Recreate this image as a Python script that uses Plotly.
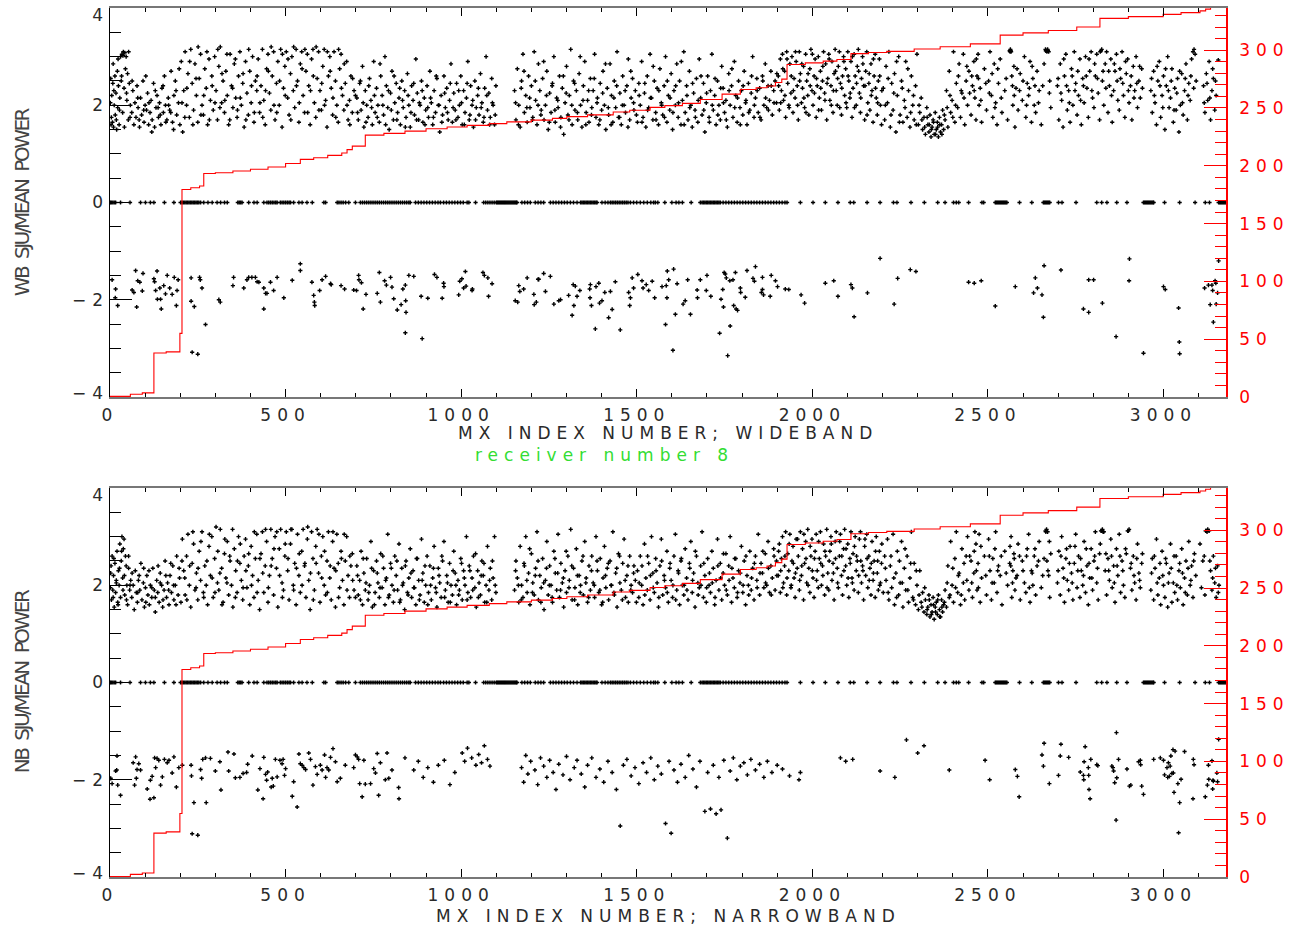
import plotly.graph_objects as go

# ---------------- data ----------------
# MX index numbers whose SJU/mean-power ratio is 0 (same in both panels)
zero_x = [1, 4, 8, 12, 16, 30, 57, 87, 101, 115, 125, 155, 182,
          201, 205, 209, 213, 217, 221, 225, 229, 233, 237, 241, 245, 249, 253, 258,
          267, 279, 291, 305, 315, 326, 334, 364, 368, 372, 376, 395, 410, 419, 438,
          447, 452, 457, 462, 467, 472, 476, 485, 490, 495, 500, 505, 510, 514, 523, 538,
          547, 561, 576, 609, 614, 647, 652, 658, 664, 671, 680, 699,
          713, 719, 725, 731, 737, 743, 749, 755, 761, 767, 773, 779, 785, 791, 797, 803,
          809, 815, 821, 827, 833, 839, 845, 851, 855,
          870, 878, 886, 894, 902, 910, 918, 926, 934, 941, 950, 958, 966, 974, 982, 990,
          998, 1006, 1017, 1022, 1041,
          1064, 1070, 1076, 1082, 1088, 1094, 1100, 1103, 1106, 1109, 1112, 1115, 1118,
          1121, 1124, 1127, 1130, 1133, 1136, 1139, 1142, 1145, 1148, 1151, 1154, 1157, 1159,
          1173, 1181, 1189, 1197, 1211, 1219, 1227, 1235, 1254, 1262, 1270, 1278, 1286,
          1294, 1302, 1311, 1320, 1330, 1340, 1344, 1348, 1352, 1356, 1360, 1364, 1368,
          1372, 1376, 1380, 1384, 1387,
          1401, 1410, 1418, 1425, 1430, 1435, 1440, 1445, 1450, 1455, 1460, 1465, 1470,
          1475, 1482, 1491, 1500, 1510, 1520, 1530, 1540, 1548, 1553, 1560, 1580, 1600,
          1612, 1620, 1630, 1655, 1681,
          1686, 1690, 1694, 1698, 1702, 1706, 1710, 1714, 1718, 1722, 1726, 1730, 1734,
          1738, 1746, 1754, 1762, 1770, 1778, 1786, 1794, 1802, 1810, 1818, 1826, 1834,
          1842, 1850, 1858, 1866, 1874, 1882, 1890, 1898, 1906, 1914, 1922, 1928,
          1966, 2002, 2037, 2073, 2108, 2118, 2156, 2193, 2231, 2241, 2281, 2319, 2357,
          2378, 2402, 2410, 2417, 2445, 2483, 2488,
          2521, 2524, 2527, 2530, 2533, 2536, 2539, 2542, 2545, 2548, 2551, 2554, 2590,
          2625, 2658, 2661, 2664, 2667, 2670, 2673, 2676, 2701, 2711, 2751, 2810, 2824,
          2839, 2867, 2896,
          2943, 2946, 2949, 2952, 2955, 2958, 2961, 2964, 2967, 2970, 2972, 3003, 3046,
          3090, 3119, 3131, 3157, 3160, 3163, 3166, 3169, 3172, 3175, 3178]

# red cumulative staircase (right-hand axis), same in both panels
red_x = [0, 58, 92, 125, 160, 199, 205, 230, 255, 267, 300, 350, 400, 450, 500, 542,
         580, 620, 660, 675, 690, 727, 780, 840, 900, 960, 1017, 1080, 1130, 1200,
         1260, 1301, 1360, 1433, 1480, 1538, 1580, 1630, 1681, 1743, 1795, 1840, 1871,
         1895, 1913, 1928, 1980, 2031, 2070, 2110, 2160, 2212, 2290, 2364, 2450, 2535,
         2600, 2672, 2753, 2819, 2900, 2999, 3050, 3104, 3120, 3134, 3178]
red_y = [0.5, 2.3, 3.5, 38, 39, 55, 179.5, 181, 182.5, 193.3, 194, 195.5, 197, 199,
         202, 205.5, 207, 209, 211, 214, 217, 226.5, 228, 230, 232, 233.5, 235, 236.5,
         238, 239.5, 241, 242.5, 244, 246.5, 248, 250.5, 252, 254, 257.3, 262, 266,
         267.5, 269, 272, 275, 287.6, 289, 290.5, 292, 297, 298, 299, 301, 303, 305.5,
         313, 315, 317, 320, 327.5, 329, 331, 332.5, 334, 335.5, 345, 345]

# wideband: upper cloud (index, ratio)
wb_upper = [
    (2, 2.55), (4, 1.75), (5, 2.2), (7, 1.65), (8, 2.45), (10, 1.55), (12, 2.0), (14, 2.6),
    (15, 1.8), (17, 2.25), (19, 1.5), (21, 2.7), (22, 1.95), (24, 2.4), (26, 1.6), (28, 2.15),
    (30, 3.0), (32, 2.5), (34, 3.05), (36, 1.85), (38, 3.1), (40, 2.35), (42, 3.08), (44, 2.75),
    (46, 3.0), (48, 2.1), (50, 2.65), (52, 1.7), (55, 2.45), (58, 2.0),
    (62, 1.85), (65, 2.3), (68, 1.6), (71, 2.05), (74, 1.75), (77, 2.4), (80, 1.95), (84, 1.55),
    (87, 2.15), (90, 1.8), (94, 2.5), (97, 1.65), (100, 2.0), (104, 1.9), (107, 2.25), (110, 1.6),
    (114, 1.85), (117, 2.1), (120, 1.7), (124, 2.45), (127, 1.55), (131, 1.95), (134, 2.2),
    (138, 1.75), (141, 2.05), (145, 1.6), (148, 2.35), (152, 1.85), (155, 2.6), (158, 2.0),
    (162, 1.7), (166, 2.15), (170, 1.9), (174, 2.7), (178, 1.65), (182, 2.2), (186, 2.5),
    (190, 1.8), (195, 2.05), (199, 1.6),
    (203, 2.9), (207, 1.45), (210, 2.3), (214, 3.1), (218, 2.0), (222, 2.65), (226, 1.75),
    (230, 3.15), (234, 2.45), (238, 1.9), (242, 2.85), (246, 2.2), (250, 1.65), (254, 2.55),
    (258, 3.05), (262, 2.0), (266, 1.8), (270, 2.75), (274, 2.35), (278, 1.6), (282, 2.95),
    (286, 2.1), (290, 2.6), (294, 1.9), (298, 3.0), (302, 2.3), (306, 1.7), (310, 2.8),
    (314, 3.2), (318, 2.05), (322, 2.5), (326, 1.85), (330, 2.7), (334, 2.2), (338, 1.6),
    (342, 3.05), (346, 2.4), (350, 1.95), (354, 2.85), (358, 2.15), (362, 1.75), (366, 2.6),
    (370, 3.1), (374, 2.0), (378, 2.45), (382, 1.55), (386, 2.9), (390, 2.25), (394, 1.8),
    (398, 2.7), (402, 2.05), (406, 3.0), (410, 1.65), (414, 2.5), (418, 2.3),
    (422, 2.95), (426, 1.85), (430, 2.4), (434, 3.15), (438, 2.1), (442, 1.6), (446, 2.75),
    (450, 3.05), (454, 2.25), (458, 1.9), (462, 2.6), (466, 3.1), (470, 1.7), (474, 2.45),
    (478, 2.9), (482, 2.0), (486, 3.15), (490, 1.55), (494, 2.35), (498, 2.8), (502, 3.1),
    (506, 2.15), (510, 1.8), (514, 2.65), (518, 3.0), (522, 2.3), (526, 1.95), (530, 3.15),
    (534, 2.5), (538, 1.65), (542, 2.85), (546, 3.1), (550, 2.2), (554, 1.85), (558, 2.7),
    (562, 3.05), (566, 2.4), (570, 1.6), (574, 2.95), (578, 3.15), (582, 2.05), (586, 1.75),
    (590, 2.55), (594, 3.1), (598, 2.3), (602, 1.9), (606, 2.8), (610, 3.15), (614, 2.1),
    (618, 1.55), (622, 2.6), (626, 3.0), (630, 2.35), (634, 1.8), (638, 3.1), (642, 2.5),
    (646, 2.0), (650, 1.65), (654, 2.75), (658, 3.05), (662, 2.2), (666, 1.9), (670, 2.45),
    (674, 2.9), (678, 1.7), (682, 2.1), (686, 2.6), (690, 1.85), (695, 2.3),
    (703, 2.15), (707, 1.7), (711, 2.45), (715, 1.9), (719, 2.8), (723, 1.55), (727, 2.3),
    (731, 2.0), (735, 1.75), (739, 2.55), (743, 2.1), (747, 1.6), (751, 2.9), (755, 1.85),
    (759, 2.35), (763, 2.0), (767, 1.65), (771, 2.6), (775, 2.2), (779, 1.8), (783, 3.0),
    (787, 2.4), (791, 1.95), (795, 1.5), (799, 2.25), (803, 2.7), (807, 1.7), (811, 2.05),
    (815, 2.45), (819, 1.85), (823, 2.15), (827, 1.6), (831, 2.5), (835, 1.95), (839, 2.3),
    (843, 1.75), (847, 2.65), (851, 2.0), (855, 1.55), (859, 2.4), (863, 2.1), (867, 1.8),
    (871, 2.95), (875, 2.25), (879, 1.7), (883, 2.0), (887, 2.5), (891, 1.65), (895, 2.15),
    (899, 1.9), (903, 2.4), (907, 1.75), (911, 2.7), (915, 2.05), (919, 1.6), (923, 2.3),
    (927, 1.85), (931, 2.55), (935, 2.0), (939, 1.45), (943, 2.2), (947, 1.8), (951, 2.6),
    (955, 1.95), (959, 2.35), (963, 1.7), (967, 2.1), (971, 2.85), (975, 1.65), (979, 2.25),
    (983, 1.9), (987, 2.45), (991, 1.75), (995, 2.0), (999, 2.6), (1003, 1.6), (1007, 2.3),
    (1011, 1.85), (1015, 2.15), (1019, 2.9), (1023, 1.7), (1027, 2.4), (1031, 2.0),
    (1035, 1.55), (1039, 2.5), (1043, 1.95), (1047, 2.2), (1051, 1.8), (1055, 2.65),
    (1059, 2.05), (1063, 1.65), (1067, 2.35), (1071, 3.0), (1075, 1.9), (1079, 2.25),
    (1083, 1.75), (1087, 2.55), (1091, 2.0), (1095, 1.6), (1099, 2.4),
    (1152, 2.3), (1156, 1.7), (1160, 2.75), (1164, 2.0), (1168, 1.55), (1172, 2.5),
    (1176, 3.05), (1180, 1.85), (1184, 2.2), (1188, 1.65), (1192, 2.6), (1196, 1.95),
    (1200, 2.4), (1204, 1.75), (1208, 3.1), (1212, 2.1), (1216, 1.6), (1220, 2.85),
    (1224, 2.3), (1228, 1.9), (1232, 2.55), (1236, 1.7), (1240, 2.0), (1244, 2.7),
    (1248, 1.5), (1252, 2.25), (1256, 1.85), (1260, 2.45), (1264, 3.0), (1268, 1.65),
    (1272, 2.15), (1276, 1.95), (1280, 2.6), (1284, 1.75), (1288, 2.35), (1292, 1.4),
    (1296, 2.05), (1300, 2.8), (1304, 1.8), (1308, 2.2), (1312, 3.15), (1316, 1.6),
    (1320, 2.5), (1324, 1.9), (1328, 2.3), (1332, 1.7), (1336, 2.65), (1340, 2.0),
    (1344, 1.55), (1348, 2.4), (1352, 2.9), (1356, 1.85), (1360, 2.1), (1364, 1.65),
    (1368, 2.55), (1372, 1.95), (1376, 2.3), (1380, 3.05), (1384, 1.75), (1388, 2.15),
    (1392, 1.6), (1396, 2.45), (1400, 1.9), (1404, 2.7), (1408, 2.0), (1412, 1.5),
    (1416, 2.35), (1420, 1.8), (1424, 2.85), (1428, 2.2), (1432, 1.65), (1436, 2.5),
    (1440, 1.95), (1444, 3.1), (1448, 1.75), (1452, 2.25), (1456, 1.6), (1460, 2.6),
    (1464, 2.0), (1468, 1.85), (1472, 2.4), (1476, 2.95), (1480, 1.7), (1484, 2.15),
    (1488, 2.55), (1492, 1.9), (1496, 2.3),
    (1502, 1.65), (1506, 2.45), (1510, 2.0), (1514, 2.9), (1518, 1.75), (1522, 2.25),
    (1526, 1.55), (1530, 2.6), (1534, 1.95), (1538, 3.05), (1542, 2.15), (1546, 1.7),
    (1550, 2.5), (1554, 1.85), (1558, 2.35), (1562, 1.6), (1566, 2.75), (1570, 2.05),
    (1574, 1.8), (1578, 2.4), (1582, 3.0), (1586, 1.65), (1590, 2.2), (1594, 1.9),
    (1598, 2.65), (1602, 1.5), (1606, 2.3), (1610, 2.0), (1614, 2.85), (1618, 1.75),
    (1622, 2.5), (1626, 1.6), (1630, 2.1), (1634, 3.1), (1638, 1.85), (1642, 2.4),
    (1646, 1.7), (1650, 2.7), (1654, 2.0), (1658, 1.55), (1662, 2.25), (1666, 1.9),
    (1670, 2.55), (1674, 1.65), (1678, 2.95), (1682, 2.15), (1686, 1.8), (1690, 2.45),
    (1694, 1.45), (1698, 2.05), (1702, 2.6), (1706, 1.75), (1710, 2.3), (1714, 3.05),
    (1718, 1.9), (1722, 2.2), (1726, 1.6), (1730, 2.5), (1734, 2.0), (1738, 1.7),
    (1742, 2.8), (1746, 2.35), (1750, 1.85), (1754, 2.1), (1758, 1.55), (1762, 2.65),
    (1766, 2.0), (1770, 2.4), (1774, 1.75), (1778, 2.9), (1782, 2.2), (1786, 1.65),
    (1790, 2.5), (1794, 1.95), (1798, 2.3), (1802, 1.8), (1806, 2.7), (1810, 2.05),
    (1814, 1.6), (1818, 2.45), (1822, 1.9), (1826, 2.25), (1830, 3.0), (1834, 1.75),
    (1838, 2.15), (1842, 2.55), (1846, 1.85), (1850, 2.35), (1854, 1.7), (1858, 2.6),
    (1862, 2.0), (1866, 2.85), (1870, 1.95), (1874, 2.4), (1878, 2.1), (1882, 2.7),
    (1886, 1.8), (1890, 2.3), (1894, 2.5), (1898, 2.05),
    (1903, 2.6), (1906, 1.9), (1909, 2.95), (1912, 2.3), (1915, 3.05), (1918, 2.1),
    (1921, 2.7), (1924, 1.75), (1927, 3.1), (1930, 2.45), (1933, 2.0), (1936, 2.85),
    (1939, 2.25), (1942, 3.0), (1945, 1.85), (1948, 2.55), (1951, 2.15), (1954, 2.9),
    (1957, 2.4), (1960, 1.7), (1963, 3.1), (1966, 2.65), (1969, 2.05), (1972, 2.35),
    (1975, 2.8), (1978, 1.95), (1981, 3.05), (1984, 2.5), (1987, 2.2), (1990, 1.8),
    (1993, 2.75), (1996, 3.15), (1999, 2.3), (2002, 2.0), (2005, 2.6), (2008, 2.95),
    (2011, 1.75), (2014, 2.4), (2017, 3.0), (2020, 2.15), (2023, 2.7), (2026, 1.9),
    (2029, 2.5), (2032, 3.1), (2035, 2.25), (2038, 2.85), (2041, 1.7), (2044, 2.55),
    (2047, 3.05), (2050, 2.1), (2053, 2.4), (2056, 2.9), (2059, 1.85), (2062, 2.65),
    (2065, 3.15), (2068, 2.3), (2071, 2.0), (2074, 2.8), (2077, 3.1), (2080, 2.45),
    (2083, 1.8), (2086, 2.6), (2089, 3.0), (2092, 2.2), (2095, 2.75), (2098, 1.95),
    (2101, 3.1), (2104, 2.5), (2107, 2.15), (2110, 2.9), (2113, 1.75), (2116, 2.35),
    (2119, 3.05), (2122, 2.6), (2125, 2.0), (2128, 2.8), (2131, 3.15), (2134, 2.25),
    (2137, 1.85), (2140, 2.55), (2143, 3.0), (2146, 2.4), (2149, 1.7), (2152, 2.7),
    (2155, 3.1), (2158, 2.05), (2161, 2.45), (2164, 1.9), (2167, 2.85), (2170, 2.3),
    (2173, 1.65), (2176, 2.6), (2179, 3.05), (2182, 2.15), (2185, 1.8), (2188, 2.5),
    (2191, 2.95), (2194, 2.0), (2197, 1.6),
    (2202, 2.35), (2206, 1.7), (2210, 2.8), (2214, 2.05), (2218, 3.1), (2222, 1.55),
    (2226, 2.45), (2230, 1.9), (2234, 2.65), (2238, 1.45), (2242, 2.2), (2246, 3.0),
    (2250, 1.8), (2254, 2.5), (2258, 1.65), (2262, 2.1), (2266, 2.9), (2270, 1.75),
    (2274, 2.3), (2278, 1.55), (2282, 2.6), (2286, 2.0), (2290, 1.7), (2294, 2.4),
    (2298, 3.05), (2302, 1.6), (2306, 1.85), (2310, 2.15), (2314, 1.5), (2318, 1.75),
    (2322, 1.4), (2326, 1.95), (2329, 1.6), (2332, 1.45), (2335, 1.8), (2338, 1.35),
    (2341, 1.55), (2344, 1.7), (2347, 1.4), (2350, 1.85), (2353, 1.5), (2356, 1.65),
    (2359, 1.35), (2362, 1.75), (2365, 1.45), (2368, 1.6), (2371, 1.9), (2374, 1.5),
    (2378, 1.7), (2382, 2.3), (2386, 1.55), (2390, 2.7), (2394, 1.85), (2398, 2.1),
    (2402, 3.1), (2406, 1.65), (2410, 2.45), (2414, 1.95), (2418, 2.85), (2422, 1.75),
    (2426, 2.25), (2430, 3.05), (2434, 1.6), (2438, 2.5), (2442, 2.0), (2446, 2.7),
    (2452, 1.8), (2456, 2.4), (2460, 2.9), (2463, 2.15), (2466, 1.7), (2469, 2.6),
    (2472, 3.05), (2475, 2.0), (2478, 2.35), (2482, 1.65), (2490, 2.75), (2496, 1.9),
    (2502, 2.5), (2506, 3.1), (2510, 2.2), (2514, 1.75), (2518, 2.85), (2522, 2.05),
    (2526, 1.6), (2530, 2.45), (2535, 2.95), (2540, 1.85), (2548, 2.3), (2556, 1.7),
    (2562, 3.12), (2564, 3.15), (2566, 3.1), (2568, 2.6), (2571, 2.0), (2574, 2.8),
    (2577, 1.55), (2580, 2.35), (2586, 1.9), (2592, 2.65), (2598, 2.1), (2604, 3.0),
    (2608, 1.75), (2612, 2.45), (2616, 2.2), (2620, 2.9), (2624, 1.65), (2628, 2.55),
    (2632, 2.0), (2636, 1.85), (2640, 2.7), (2646, 2.3), (2652, 1.6), (2660, 2.85),
    (2664, 3.15), (2667, 3.12), (2670, 3.15), (2673, 3.1), (2676, 2.5), (2679, 1.95),
    (2698, 2.4), (2702, 1.7), (2706, 2.85), (2710, 2.1), (2714, 1.55), (2718, 2.6),
    (2722, 3.05), (2726, 1.9), (2730, 2.3), (2734, 1.65), (2738, 2.75), (2742, 2.0),
    (2746, 3.1), (2750, 2.45), (2754, 1.8), (2758, 2.2), (2762, 2.95), (2766, 1.6),
    (2770, 2.55), (2774, 2.05), (2778, 3.0), (2782, 2.35), (2786, 1.75), (2790, 2.7),
    (2794, 3.1), (2798, 2.15), (2802, 1.95), (2806, 2.6), (2810, 3.05), (2814, 2.25),
    (2818, 1.7), (2822, 3.12), (2826, 2.5), (2830, 2.0), (2834, 2.85), (2838, 3.1),
    (2842, 1.85), (2846, 2.4), (2850, 2.95), (2854, 1.65), (2858, 2.3), (2862, 2.7),
    (2866, 3.05), (2870, 2.1), (2874, 1.9), (2878, 2.55), (2882, 3.1), (2886, 2.2),
    (2890, 1.75), (2894, 2.65), (2898, 2.95), (2902, 2.05), (2906, 2.4), (2910, 1.7),
    (2914, 2.8), (2918, 2.3), (2922, 3.0), (2926, 1.95), (2930, 2.5), (2934, 2.15),
    (2938, 2.75),
    (2964, 2.3), (2968, 1.85), (2972, 2.7), (2976, 2.05), (2980, 1.6), (2984, 2.5),
    (2988, 2.9), (2992, 1.75), (2996, 2.2), (3000, 2.6), (3004, 1.5), (3008, 2.4),
    (3012, 3.0), (3016, 1.95), (3020, 2.15), (3024, 2.75), (3028, 1.65), (3032, 2.35),
    (3036, 1.9), (3040, 2.55), (3044, 1.45), (3048, 2.0), (3052, 2.65), (3056, 1.8),
    (3060, 2.3), (3064, 2.85), (3068, 1.7), (3072, 2.45), (3076, 2.1), (3080, 2.95),
    (3084, 3.1), (3087, 3.15), (3090, 3.05), (3093, 2.5),
    (3114, 2.4), (3118, 1.85), (3122, 2.65), (3126, 2.1), (3130, 2.9), (3134, 1.7),
    (3138, 2.3), (3142, 2.55), (3146, 1.9), (3150, 2.2)]

# wideband: further points of the upper cloud
wb_upper_more = [
    (1, 2.05), (3, 1.6), (9, 2.85), (11, 2.3), (18, 1.7), (23, 2.95), (27, 1.9), (33, 2.6),
    (37, 3.02), (41, 1.55), (47, 2.25), (53, 3.1), (57, 1.75), (63, 2.5), (79, 2.15),
    (83, 1.7), (96, 1.9), (102, 2.6), (111, 2.05), (119, 1.45), (129, 2.3), (137, 1.95),
    (143, 1.8), (151, 2.4), (159, 1.65), (167, 2.0), (173, 1.85), (181, 1.5), (188, 2.3),
    (197, 2.75),
    (205, 2.05), (213, 1.75), (219, 2.35), (227, 2.9), (236, 1.6), (245, 2.55), (251, 3.2),
    (259, 1.8), (267, 2.2), (276, 3.1), (283, 1.7), (291, 2.4), (299, 2.05), (307, 3.15),
    (313, 1.95), (319, 2.65), (327, 2.1), (333, 3.05), (341, 1.7), (349, 2.35), (357, 2.95),
    (363, 1.9), (371, 2.15), (379, 2.65), (387, 1.7), (395, 3.15), (403, 2.4), (411, 1.85),
    (419, 2.6), (427, 2.05), (435, 1.75), (443, 2.3), (451, 2.7), (459, 3.2), (467, 2.0),
    (475, 1.85), (483, 2.5), (491, 3.05), (499, 2.2), (507, 2.95), (515, 1.7), (523, 3.2),
    (531, 2.4), (539, 2.05), (547, 2.75), (555, 3.15), (563, 1.85), (571, 2.3), (579, 2.6),
    (587, 3.2), (595, 1.9), (603, 2.45), (611, 2.0), (619, 3.1), (627, 2.7), (635, 2.15),
    (643, 1.75), (651, 3.15), (659, 2.35), (667, 2.85), (675, 2.0), (683, 1.6), (691, 2.55),
    (699, 2.2),
    (705, 1.85), (713, 2.5), (721, 2.05), (729, 1.65), (737, 2.4), (745, 1.95), (753, 2.2),
    (761, 1.75), (769, 2.85), (777, 2.0), (785, 1.6), (793, 2.3), (801, 1.9), (809, 2.6),
    (817, 1.7), (825, 2.35), (833, 2.1), (841, 1.55), (849, 2.2), (857, 1.85), (865, 2.45),
    (873, 1.7), (881, 2.05), (889, 2.3), (897, 1.6), (905, 1.95), (913, 2.15), (921, 1.75),
    (929, 2.6), (937, 2.0), (945, 1.65), (953, 2.25), (961, 1.85), (969, 2.45), (977, 1.95),
    (985, 1.7), (993, 2.3), (1001, 2.05), (1009, 1.6), (1017, 2.45), (1025, 1.8),
    (1033, 2.1), (1041, 1.7), (1049, 2.35), (1057, 1.95), (1065, 1.75), (1073, 2.2),
    (1081, 1.6), (1089, 2.05), (1097, 1.8),
    (1155, 2.05), (1163, 1.6), (1171, 2.35), (1179, 2.7), (1187, 1.95), (1195, 2.15),
    (1203, 1.7), (1211, 2.5), (1219, 2.0), (1227, 1.8), (1235, 2.9), (1243, 2.2),
    (1251, 1.65), (1259, 2.4), (1267, 1.9), (1275, 2.1), (1283, 1.55), (1291, 2.6),
    (1299, 2.25), (1307, 1.7), (1315, 2.0), (1323, 2.45), (1331, 1.85), (1339, 3.0),
    (1347, 2.1), (1355, 1.6), (1363, 2.3), (1371, 1.8), (1379, 2.55), (1387, 2.05),
    (1395, 1.7), (1403, 2.25), (1411, 2.85), (1419, 1.95), (1427, 1.6), (1435, 2.15),
    (1443, 2.4), (1451, 1.75), (1459, 2.0), (1467, 2.3), (1475, 1.55), (1483, 2.7),
    (1491, 2.05), (1499, 1.8), (1507, 2.2), (1515, 1.65), (1523, 2.45), (1531, 1.9),
    (1539, 2.15), (1547, 2.8), (1555, 1.7), (1563, 2.3), (1571, 2.0), (1579, 1.75),
    (1587, 2.5), (1595, 2.15), (1603, 1.85), (1611, 2.4), (1619, 2.05), (1627, 2.9),
    (1635, 1.6), (1643, 2.2), (1651, 1.95), (1659, 2.45), (1667, 1.75), (1675, 2.1),
    (1683, 2.6), (1691, 1.9), (1699, 2.25), (1707, 1.65), (1715, 2.0), (1723, 2.55),
    (1731, 1.8), (1739, 2.35), (1747, 2.05), (1755, 1.7), (1763, 2.3), (1771, 2.75),
    (1779, 1.95), (1787, 2.15), (1795, 1.6), (1803, 2.4), (1811, 2.1), (1819, 1.85),
    (1827, 2.6), (1835, 2.0), (1843, 2.3), (1851, 1.75), (1859, 2.5), (1867, 2.15),
    (1875, 1.9), (1883, 2.4), (1891, 2.05), (1899, 2.65),
    (1904, 2.4), (1910, 2.05), (1916, 2.75), (1922, 2.2), (1928, 2.95), (1934, 1.95),
    (1940, 2.6), (1946, 2.3), (1952, 3.1), (1958, 2.0), (1964, 2.5), (1970, 2.85),
    (1976, 2.15), (1982, 1.85), (1988, 2.65), (1994, 2.4), (2000, 3.05), (2006, 2.25),
    (2012, 2.55), (2018, 1.9), (2024, 2.35), (2030, 2.8), (2036, 2.1), (2042, 2.45),
    (2048, 2.95), (2054, 2.0), (2060, 2.3), (2066, 2.7), (2072, 2.55), (2078, 1.95),
    (2084, 2.35), (2090, 2.9), (2096, 2.05), (2102, 2.6), (2108, 2.25), (2114, 3.0),
    (2120, 1.95), (2126, 2.45), (2132, 2.7), (2138, 2.15), (2144, 2.85), (2150, 2.4),
    (2156, 1.8), (2162, 2.65), (2168, 2.2), (2174, 2.95), (2180, 2.35), (2186, 2.05),
    (2192, 2.6), (2198, 2.3),
    (2208, 2.0), (2216, 2.55), (2224, 1.8), (2232, 2.25), (2240, 2.9), (2248, 1.65),
    (2256, 2.35), (2264, 1.95), (2272, 2.75), (2280, 1.85), (2288, 2.2), (2296, 1.6),
    (2304, 2.0), (2312, 1.7), (2320, 1.55), (2327, 1.75), (2333, 1.6), (2339, 1.5),
    (2345, 1.65), (2351, 1.4), (2357, 1.55), (2363, 1.6), (2369, 1.4), (2376, 1.8),
    (2384, 1.95), (2392, 2.2), (2400, 1.75), (2408, 2.0), (2416, 2.6), (2424, 2.3),
    (2432, 2.15), (2440, 2.8), (2448, 2.25),
    (2454, 2.6), (2461, 2.3), (2467, 2.95), (2473, 2.55), (2480, 2.1), (2494, 2.45),
    (2504, 2.25), (2512, 2.65), (2520, 1.95), (2528, 2.75), (2538, 2.15), (2552, 2.55),
    (2563, 3.1), (2565, 3.12), (2570, 2.4), (2575, 2.2), (2583, 2.75), (2590, 2.3),
    (2600, 2.5), (2610, 2.0), (2618, 2.35), (2626, 2.8), (2634, 2.4), (2644, 2.05),
    (2656, 2.4), (2665, 3.12), (2668, 3.1), (2671, 3.12), (2675, 2.25), (2700, 2.55),
    (2708, 2.25), (2716, 2.95), (2724, 2.4), (2732, 2.05), (2740, 2.6), (2748, 2.3),
    (2756, 2.7), (2764, 2.1), (2772, 2.4), (2780, 2.6), (2788, 2.95), (2796, 2.3),
    (2804, 2.85), (2812, 2.55), (2820, 3.1), (2824, 3.15), (2828, 2.7), (2836, 2.35),
    (2844, 2.7), (2852, 2.2), (2860, 2.85), (2868, 2.5), (2876, 2.75), (2884, 2.45),
    (2892, 2.9), (2900, 2.3), (2908, 2.6), (2916, 2.15), (2924, 2.45), (2932, 2.8),
    (2940, 2.35), (2966, 2.55), (2974, 2.2), (2982, 2.8), (2990, 2.4), (2998, 1.95),
    (3006, 2.75), (3014, 2.3), (3022, 2.5), (3030, 1.9), (3038, 2.25), (3046, 2.7),
    (3054, 2.05), (3062, 2.55), (3070, 2.2), (3078, 2.6), (3086, 2.35), (3116, 2.05),
    (3124, 2.45), (3132, 2.15), (3140, 2.75), (3148, 2.5), (3156, 2.93)]

# wideband: lower cloud
wb_lower = [
    (6, -1.59), (16, -1.78), (15, -1.96), (22, -2.12), (63, -1.80), (68, -1.85), (73, -1.40),
    (76, -2.15), (79, -1.61), (85, -1.64), (92, -1.82), (94, -1.46), (125, -1.57), (127, -1.63),
    (130, -1.81), (134, -1.41), (135, -1.99), (142, -1.76), (144, -1.99), (146, -2.19),
    (153, -1.71), (158, -1.88), (163, -1.50), (170, -1.76), (177, -1.89), (183, -1.54),
    (189, -2.12), (191, -1.81), (194, -1.59), (231, -1.55), (231, -2.03), (240, -2.14),
    (234, -3.08), (250, -3.12), (255, -1.54), (257, -1.59), (262, -1.76), (272, -2.51),
    (310, -2.00), (314, -2.05), (350, -1.71), (352, -1.54), (381, -1.76), (390, -1.59),
    (395, -1.54), (404, -1.54), (414, -1.54), (419, -1.63), (424, -1.64), (438, -2.19),
    (438, -1.76), (443, -1.87), (447, -1.87), (457, -1.64), (466, -1.81), (476, -1.54),
    (495, -1.96), (519, -1.60),
    (542, -1.26), (542, -1.40), (575, -1.64), (580, -1.91), (582, -2.05), (583, -2.12),
    (597, -1.81), (604, -1.59), (614, -1.52), (628, -1.67), (630, -1.69), (658, -1.71),
    (668, -1.78), (694, -1.80), (702, -1.81), (708, -1.50), (709, -1.59), (716, -1.65),
    (721, -2.19), (729, -1.89), (761, -1.87), (767, -1.44), (770, -2.05), (782, -1.61),
    (787, -1.70), (799, -1.54), (803, -1.74), (808, -1.98), (818, -2.21), (829, -2.10),
    (834, -1.78), (841, -1.70), (842, -2.02), (843, -2.26), (841, -2.68), (851, -1.50),
    (865, -1.52), (886, -1.93), (889, -2.80), (905, -1.97), (924, -1.48), (931, -1.54),
    (946, -1.97), (950, -1.66), (951, -1.73), (993, -1.90), (996, -1.62), (1002, -1.57),
    (1007, -1.76), (1012, -1.42), (1014, -1.72), (1031, -1.81), (1032, -1.78), (1062, -1.44),
    (1066, -1.50), (1076, -1.55), (1078, -1.93), (1088, -1.67),
    (1154, -2.02), (1161, -2.05), (1164, -1.71), (1167, -1.83), (1178, -1.78), (1188, -1.55),
    (1207, -1.89), (1208, -2.10), (1214, -2.05), (1219, -1.58), (1221, -1.58), (1235, -1.46),
    (1240, -1.83), (1254, -1.52), (1264, -2.09), (1278, -2.02), (1283, -2.00), (1306, -1.91),
    (1316, -2.32), (1319, -1.69), (1321, -2.12), (1325, -1.72), (1330, -1.93), (1338, -1.81),
    (1366, -1.78), (1367, -1.96), (1368, -1.69), (1371, -2.12), (1382, -2.60), (1384, -1.73),
    (1392, -1.66), (1394, -2.07), (1401, -2.02), (1409, -1.85), (1420, -2.37), (1430, -2.20),
    (1425, -1.83), (1439, -1.63), (1453, -2.62), (1477, -1.85), (1480, -2.12), (1482, -1.96),
    (1487, -1.55), (1491, -1.76), (1503, -1.48), (1515, -1.61), (1518, -1.76), (1527, -1.69),
    (1534, -1.81), (1544, -1.62), (1551, -1.96), (1572, -1.73), (1582, -2.51), (1584, -1.71),
    (1586, -1.96), (1587, -1.41), (1591, -1.59), (1603, -3.04), (1605, -1.37), (1610, -2.30),
    (1615, -1.67), (1632, -2.09), (1638, -2.02), (1645, -1.59), (1653, -2.30), (1672, -1.80),
    (1673, -1.96), (1681, -1.59),
    (1700, -1.50), (1698, -1.81), (1711, -1.93), (1736, -2.69), (1740, -1.99), (1745, -1.79),
    (1747, -2.15), (1749, -1.44), (1752, -1.47), (1755, -1.55), (1759, -3.15), (1765, -1.61),
    (1766, -2.54), (1774, -1.59), (1776, -2.12), (1781, -1.44), (1783, -2.19), (1787, -2.22),
    (1795, -1.76), (1796, -1.85), (1809, -1.95), (1814, -1.40), (1831, -1.56), (1835, -1.62),
    (1838, -1.32), (1855, -1.85), (1858, -1.79), (1861, -1.90), (1858, -1.54), (1880, -1.93),
    (1883, -1.50), (1895, -1.61), (1901, -1.73), (1923, -1.78), (1933, -1.79), (1968, -1.90),
    (1978, -2.07), (2037, -1.66), (2061, -1.61), (2073, -1.93), (2110, -1.69), (2114, -1.76),
    (2119, -2.35), (2157, -1.86), (2193, -1.15), (2233, -2.09), (2243, -1.56), (2279, -1.38),
    (2295, -1.42), (2445, -1.64), (2461, -1.66), (2481, -1.61), (2521, -2.13), (2578, -1.73),
    (2630, -1.86), (2635, -1.55), (2641, -1.76), (2654, -1.90), (2658, -2.36), (2660, -1.30),
    (2708, -1.39), (2772, -2.19), (2787, -2.26), (2787, -1.59), (2801, -1.59), (2826, -2.07),
    (2865, -2.76), (2903, -1.16), (2902, -1.61), (2943, -3.10), (3000, -1.73), (3005, -1.79),
    (3043, -2.17), (3045, -2.87), (3046, -3.11), (3117, -1.76), (3128, -1.70), (3138, -1.70),
    (3140, -1.81), (3147, -1.61), (3149, -1.66), (3154, -1.86), (3133, -2.10), (3150, -2.09),
    (3142, -2.46), (3157, -1.20)]

# narrowband: upper cloud
nb_upper = [
    (2, 2.25), (4, 1.7), (6, 2.6), (8, 1.9), (10, 2.2), (12, 1.55), (14, 2.45), (16, 1.85),
    (18, 2.1), (20, 2.7), (22, 1.65), (24, 2.3), (26, 2.0), (28, 2.85), (30, 1.75), (32, 2.5),
    (34, 3.0), (36, 2.15), (38, 2.75), (40, 2.95), (42, 1.8), (44, 2.6), (46, 2.4), (48, 2.0),
    (50, 1.6), (53, 2.35), (56, 1.9), (59, 2.1),
    (62, 1.75), (66, 2.0), (69, 1.5), (72, 2.3), (75, 1.85), (78, 1.65), (81, 2.1), (85, 1.9),
    (88, 2.45), (91, 1.7), (95, 2.05), (98, 1.55), (101, 1.95), (105, 2.2), (108, 1.8),
    (112, 1.6), (115, 2.0), (119, 1.75), (122, 2.35), (126, 1.9), (129, 1.45), (133, 2.1),
    (136, 1.85), (140, 1.65), (143, 2.25), (147, 2.0), (150, 1.55), (154, 1.9), (157, 2.5),
    (161, 1.75), (164, 2.05), (168, 1.6), (171, 2.2), (175, 1.85), (179, 2.4), (182, 1.7),
    (186, 2.0), (190, 2.6), (194, 1.8), (198, 2.15),
    (202, 1.65), (206, 2.95), (210, 2.3), (214, 1.8), (218, 2.6), (222, 3.05), (226, 2.0),
    (230, 1.55), (234, 2.45), (238, 2.85), (242, 1.9), (246, 2.25), (250, 1.7), (254, 2.7),
    (258, 2.1), (262, 3.1), (266, 1.85), (270, 2.4), (274, 2.0), (278, 1.6), (282, 2.8),
    (286, 2.2), (290, 3.0), (294, 1.75), (298, 2.55), (302, 3.2), (306, 2.05), (310, 1.9),
    (314, 3.15), (318, 2.35), (322, 1.65), (326, 2.65), (330, 2.15), (334, 2.9), (338, 1.8),
    (342, 2.5), (346, 2.0), (350, 1.55), (354, 2.75), (358, 2.3), (362, 1.85), (366, 3.0),
    (370, 2.45), (374, 2.1), (378, 1.7), (382, 2.6), (386, 2.95), (390, 1.95), (394, 2.4),
    (398, 1.6), (402, 2.8), (406, 2.2), (410, 1.75), (414, 2.55), (418, 3.05),
    (422, 2.1), (426, 1.5), (430, 2.65), (434, 3.1), (438, 1.85), (442, 2.4), (446, 2.9),
    (450, 1.65), (454, 2.2), (458, 3.15), (462, 2.55), (466, 1.8), (470, 3.0), (474, 2.35),
    (478, 1.55), (482, 2.75), (486, 3.15), (490, 2.05), (494, 1.9), (498, 2.6), (502, 3.1),
    (506, 2.3), (510, 1.7), (514, 2.85), (518, 3.15), (522, 2.0), (526, 2.45), (530, 1.6),
    (534, 3.05), (538, 2.2), (542, 1.85), (546, 2.7), (550, 3.15), (554, 2.4), (558, 1.75),
    (562, 2.95), (566, 2.1), (570, 1.5), (574, 3.1), (578, 2.55), (582, 1.9), (586, 2.8),
    (590, 3.15), (594, 2.25), (598, 1.65), (602, 2.6), (606, 3.0), (610, 2.0), (614, 1.8),
    (618, 2.5), (622, 3.1), (626, 2.15), (630, 1.7), (634, 2.9), (638, 2.35), (642, 1.55),
    (646, 3.05), (650, 2.45), (654, 1.95), (658, 2.7), (662, 2.1), (666, 1.6), (670, 2.5),
    (674, 3.0), (678, 2.2), (682, 1.75), (686, 2.4), (690, 2.65), (695, 1.9),
    (703, 2.4), (707, 1.8), (711, 2.1), (715, 2.7), (719, 1.6), (723, 2.25), (727, 1.9),
    (731, 2.55), (735, 1.7), (739, 2.0), (743, 2.9), (747, 1.55), (751, 2.3), (755, 1.85),
    (759, 2.5), (763, 2.05), (767, 1.75), (771, 2.65), (775, 1.95), (779, 2.35), (783, 1.6),
    (787, 2.15), (791, 3.05), (795, 1.8), (799, 2.45), (803, 2.0), (807, 1.65), (811, 2.6),
    (815, 2.2), (819, 1.9), (823, 2.85), (827, 1.7), (831, 2.35), (835, 2.05), (839, 1.5),
    (843, 2.5), (847, 1.85), (851, 2.15), (855, 2.75), (859, 1.75), (863, 2.3), (867, 1.95),
    (871, 1.6), (875, 2.55), (879, 2.1), (883, 1.8), (887, 2.95), (891, 2.25), (895, 1.65),
    (899, 2.0), (903, 2.6), (907, 1.85), (911, 2.4), (915, 1.7), (919, 2.15), (923, 2.8),
    (927, 1.95), (931, 1.55), (935, 2.35), (939, 2.05), (943, 1.75), (947, 2.5), (951, 2.9),
    (955, 1.9), (959, 2.2), (963, 1.65), (967, 2.45), (971, 2.0), (975, 1.8), (979, 2.7),
    (983, 2.25), (987, 1.6), (991, 2.1), (995, 1.9), (999, 2.55), (1003, 1.7), (1007, 2.3),
    (1011, 2.0), (1015, 3.0), (1019, 1.85), (1023, 2.4), (1027, 1.75), (1031, 2.15),
    (1035, 2.6), (1039, 1.95), (1043, 1.55), (1047, 2.3), (1051, 2.05), (1055, 1.8),
    (1059, 2.5), (1063, 2.2), (1067, 1.65), (1071, 2.0), (1075, 2.8), (1079, 1.9),
    (1083, 2.35), (1087, 1.7), (1091, 2.15), (1095, 3.0), (1099, 1.85),
    (1152, 1.9), (1156, 2.5), (1160, 2.15), (1164, 1.65), (1168, 2.8), (1172, 2.0),
    (1176, 1.75), (1180, 2.4), (1184, 3.0), (1188, 1.85), (1192, 2.25), (1196, 1.6),
    (1200, 2.65), (1204, 2.05), (1208, 1.8), (1212, 2.35), (1216, 3.1), (1220, 1.7),
    (1224, 2.2), (1228, 1.95), (1232, 2.55), (1236, 1.5), (1240, 2.1), (1244, 2.9),
    (1248, 1.8), (1252, 2.4), (1256, 2.0), (1260, 1.65), (1264, 2.7), (1268, 2.25),
    (1272, 1.9), (1276, 3.05), (1280, 1.75), (1284, 2.45), (1288, 2.05), (1292, 1.55),
    (1296, 2.3), (1300, 1.85), (1304, 2.6), (1308, 2.1), (1312, 3.15), (1316, 1.7),
    (1320, 2.35), (1324, 1.95), (1328, 2.75), (1332, 1.6), (1336, 2.2), (1340, 2.0),
    (1344, 2.5), (1348, 1.8), (1352, 2.9), (1356, 2.15), (1360, 1.65), (1364, 2.4),
    (1368, 1.9), (1372, 2.6), (1376, 2.05), (1380, 1.75), (1384, 3.0), (1388, 2.3),
    (1392, 1.85), (1396, 2.55), (1400, 1.6), (1404, 2.15), (1408, 2.8), (1412, 1.95),
    (1416, 2.35), (1420, 1.7), (1424, 2.5), (1428, 2.0), (1432, 3.1), (1436, 1.8),
    (1440, 2.25), (1444, 1.55), (1448, 2.65), (1452, 2.05), (1456, 1.9), (1460, 2.45),
    (1464, 2.95), (1468, 1.75), (1472, 2.2), (1476, 1.65), (1480, 2.6), (1484, 2.0),
    (1488, 1.85), (1492, 2.4), (1496, 2.1),
    (1502, 2.3), (1506, 1.75), (1510, 2.6), (1514, 2.0), (1518, 1.6), (1522, 2.85),
    (1526, 2.15), (1530, 1.9), (1534, 2.45), (1538, 1.7), (1542, 3.0), (1546, 2.25),
    (1550, 1.85), (1554, 2.55), (1558, 2.05), (1562, 1.55), (1566, 2.4), (1570, 2.95),
    (1574, 1.8), (1578, 2.2), (1582, 1.95), (1586, 2.7), (1590, 1.65), (1594, 2.35),
    (1598, 2.1), (1602, 1.75), (1606, 2.6), (1610, 3.05), (1614, 1.9), (1618, 2.3),
    (1622, 1.6), (1626, 2.5), (1630, 2.0), (1634, 1.8), (1638, 2.75), (1642, 2.15),
    (1646, 1.7), (1650, 2.45), (1654, 2.9), (1658, 1.85), (1662, 2.25), (1666, 1.55),
    (1670, 2.6), (1674, 2.05), (1678, 1.95), (1682, 2.4), (1686, 3.1), (1690, 1.75),
    (1694, 2.2), (1698, 1.65), (1702, 2.55), (1706, 2.0), (1710, 1.85), (1714, 2.7),
    (1718, 2.35), (1722, 1.6), (1726, 2.1), (1730, 2.95), (1734, 1.9), (1738, 2.45),
    (1742, 1.7), (1746, 2.25), (1750, 2.0), (1754, 2.65), (1758, 1.8), (1762, 2.4),
    (1766, 3.0), (1770, 1.65), (1774, 2.15), (1778, 1.95), (1782, 2.55), (1786, 1.75),
    (1790, 2.3), (1794, 2.05), (1798, 2.8), (1802, 1.85), (1806, 2.5), (1810, 1.6),
    (1814, 2.2), (1818, 2.0), (1822, 2.7), (1826, 1.9), (1830, 2.35), (1834, 1.7),
    (1838, 2.6), (1842, 2.1), (1846, 3.05), (1850, 1.8), (1854, 2.45), (1858, 2.25),
    (1862, 1.95), (1866, 2.65), (1870, 2.0), (1874, 2.9), (1878, 1.85), (1882, 2.4),
    (1886, 2.15), (1890, 2.75), (1894, 1.9), (1898, 2.5),
    (1903, 2.2), (1906, 2.85), (1909, 1.85), (1912, 2.55), (1915, 3.0), (1918, 2.05),
    (1921, 2.4), (1924, 3.1), (1927, 1.8), (1930, 2.65), (1933, 2.3), (1936, 3.05),
    (1939, 1.95), (1942, 2.5), (1945, 2.8), (1948, 2.15), (1951, 1.75), (1954, 2.95),
    (1957, 2.35), (1960, 2.6), (1963, 1.9), (1966, 3.1), (1969, 2.2), (1972, 2.75),
    (1975, 1.7), (1978, 2.45), (1981, 2.9), (1984, 2.05), (1987, 3.15), (1990, 2.35),
    (1993, 1.85), (1996, 2.6), (1999, 2.95), (2002, 2.15), (2005, 1.75), (2008, 2.7),
    (2011, 3.05), (2014, 2.3), (2017, 1.95), (2020, 2.55), (2023, 3.1), (2026, 2.0),
    (2029, 2.4), (2032, 2.85), (2035, 1.8), (2038, 2.6), (2041, 3.15), (2044, 2.25),
    (2047, 1.9), (2050, 2.7), (2053, 3.0), (2056, 2.1), (2059, 2.45), (2062, 1.7),
    (2065, 2.9), (2068, 3.1), (2071, 2.35), (2074, 1.95), (2077, 2.6), (2080, 3.05),
    (2083, 2.2), (2086, 1.8), (2089, 2.75), (2092, 3.15), (2095, 2.4), (2098, 2.0),
    (2101, 2.85), (2104, 1.75), (2107, 2.55), (2110, 3.1), (2113, 2.15), (2116, 2.65),
    (2119, 1.9), (2122, 3.0), (2125, 2.3), (2128, 2.5), (2131, 1.85), (2134, 2.95),
    (2137, 3.1), (2140, 2.05), (2143, 2.4), (2146, 1.7), (2149, 2.8), (2152, 2.2),
    (2155, 3.05), (2158, 1.95), (2161, 2.6), (2164, 2.35), (2167, 1.8), (2170, 2.9),
    (2173, 2.1), (2176, 2.5), (2179, 1.75), (2182, 3.0), (2185, 2.25), (2188, 1.9),
    (2191, 2.7), (2194, 2.05), (2197, 2.45),
    (2202, 1.85), (2206, 2.6), (2210, 2.1), (2214, 2.95), (2218, 1.7), (2222, 2.4),
    (2226, 1.95), (2230, 3.05), (2234, 1.6), (2238, 2.25), (2242, 2.7), (2246, 1.8),
    (2250, 2.05), (2254, 2.9), (2258, 1.55), (2262, 2.35), (2266, 1.9), (2270, 2.6),
    (2274, 1.65), (2278, 2.15), (2282, 3.1), (2286, 1.75), (2290, 2.45), (2294, 1.6),
    (2298, 2.0), (2302, 1.5), (2306, 2.3), (2310, 1.65), (2314, 1.85), (2318, 1.45),
    (2322, 1.7), (2326, 1.4), (2329, 1.55), (2332, 1.8), (2335, 1.35), (2338, 1.6),
    (2341, 1.45), (2344, 1.75), (2347, 1.3), (2350, 1.55), (2353, 1.65), (2356, 1.4),
    (2359, 1.8), (2362, 1.5), (2365, 1.35), (2368, 1.7), (2371, 1.45), (2374, 1.6),
    (2378, 1.9), (2382, 1.55), (2386, 2.4), (2390, 1.75), (2394, 2.9), (2398, 2.0),
    (2402, 1.65), (2406, 2.55), (2410, 3.1), (2414, 1.85), (2418, 2.25), (2422, 1.6),
    (2426, 2.75), (2430, 2.05), (2434, 1.7), (2438, 2.6), (2442, 3.0), (2446, 1.9),
    (2452, 2.5), (2456, 1.75), (2460, 2.25), (2463, 3.1), (2466, 2.85), (2469, 1.9),
    (2472, 2.45), (2475, 3.05), (2478, 1.65), (2482, 2.15), (2490, 2.6), (2496, 1.8),
    (2502, 2.95), (2506, 2.3), (2510, 1.7), (2514, 2.55), (2518, 2.05), (2522, 3.1),
    (2526, 1.85), (2530, 2.4), (2535, 2.2), (2540, 1.6), (2548, 2.7), (2556, 2.0),
    (2562, 2.45), (2566, 3.0), (2568, 1.75), (2571, 2.3), (2574, 2.65), (2577, 1.9),
    (2580, 2.15), (2586, 2.85), (2592, 1.7), (2598, 2.5), (2604, 2.05), (2608, 1.85),
    (2612, 2.75), (2616, 3.05), (2620, 1.65), (2624, 2.3), (2628, 2.0), (2632, 2.6),
    (2636, 1.8), (2640, 2.4), (2646, 2.9), (2652, 1.95), (2660, 2.55), (2664, 3.12),
    (2667, 3.15), (2670, 3.1), (2673, 2.2), (2676, 1.75), (2679, 2.65),
    (2698, 2.05), (2702, 2.7), (2706, 1.8), (2710, 3.0), (2714, 2.35), (2718, 1.65),
    (2722, 2.55), (2726, 2.1), (2730, 1.9), (2734, 2.8), (2738, 2.25), (2742, 1.7),
    (2746, 2.45), (2750, 3.05), (2754, 1.95), (2758, 2.6), (2762, 1.75), (2766, 2.3),
    (2770, 2.0), (2774, 2.9), (2778, 1.85), (2782, 2.4), (2786, 1.6), (2790, 2.15),
    (2794, 2.75), (2798, 1.9), (2802, 2.5), (2806, 3.1), (2810, 2.05), (2814, 1.7),
    (2818, 2.65), (2822, 3.12), (2826, 3.15), (2830, 3.1), (2834, 2.3), (2838, 1.8),
    (2842, 2.55), (2846, 2.1), (2850, 2.95), (2854, 1.95), (2858, 2.4), (2862, 1.65),
    (2866, 2.75), (2870, 2.2), (2874, 3.05), (2878, 1.85), (2882, 2.5), (2886, 2.0),
    (2890, 1.75), (2894, 2.65), (2898, 3.12), (2902, 3.15), (2906, 2.35), (2910, 1.9),
    (2914, 2.6), (2918, 2.05), (2922, 1.7), (2926, 2.85), (2930, 2.25), (2934, 1.95),
    (2938, 2.45),
    (2964, 1.9), (2968, 2.55), (2972, 1.7), (2976, 2.35), (2980, 2.95), (2984, 1.8),
    (2988, 2.15), (2992, 1.6), (2996, 2.7), (3000, 2.0), (3004, 1.75), (3008, 2.45),
    (3012, 1.55), (3016, 2.25), (3020, 2.85), (3024, 1.65), (3028, 2.05), (3032, 1.85),
    (3036, 2.6), (3040, 1.7), (3044, 2.3), (3048, 1.95), (3052, 2.75), (3056, 1.6),
    (3060, 2.15), (3064, 2.5), (3068, 1.8), (3072, 2.9), (3076, 2.0), (3080, 2.4),
    (3084, 1.75), (3088, 2.65), (3092, 2.2),
    (3104, 2.85), (3108, 1.95), (3112, 2.5), (3118, 1.8), (3122, 3.12), (3126, 3.15),
    (3130, 3.12), (3134, 2.3), (3138, 1.9), (3142, 2.6), (3146, 2.05), (3150, 1.75),
    (3154, 2.4), (3158, 2.0)]

# narrowband: further points of the upper cloud
nb_upper_more = [
    (1, 1.95), (3, 2.4), (9, 1.75), (11, 2.55), (18, 2.05), (23, 1.6), (27, 2.35), (33, 2.7),
    (37, 1.9), (41, 2.2), (47, 1.7), (53, 2.6), (57, 2.0), (63, 2.25), (79, 1.85), (83, 2.2),
    (96, 2.35), (102, 1.65), (111, 2.3), (119, 1.95), (129, 1.75), (137, 2.4), (143, 2.05),
    (151, 1.7), (159, 2.2), (167, 1.9), (173, 2.45), (181, 2.0), (188, 1.6), (197, 2.35),
    (205, 2.5), (213, 2.15), (219, 1.7), (227, 2.4), (236, 3.1), (245, 1.95), (251, 2.35),
    (259, 2.9), (267, 1.75), (276, 2.5), (283, 3.05), (291, 2.15), (299, 1.85), (307, 2.7),
    (313, 2.25), (319, 1.6), (327, 2.95), (333, 2.05), (341, 2.6), (349, 3.15), (357, 1.75),
    (363, 2.5), (371, 2.85), (379, 1.95), (387, 2.3), (395, 2.65), (403, 2.0), (411, 3.1),
    (419, 1.85), (427, 2.55), (435, 2.25), (443, 3.15), (451, 1.95), (459, 2.4), (467, 2.75),
    (475, 3.1), (483, 2.2), (491, 1.75), (499, 2.85), (507, 2.55), (515, 3.15), (523, 1.9),
    (531, 2.35), (539, 2.65), (547, 2.0), (555, 2.45), (563, 3.2), (571, 2.25), (579, 1.7),
    (587, 2.45), (595, 3.05), (603, 2.15), (611, 2.7), (619, 1.85), (627, 2.4), (635, 3.1),
    (643, 2.3), (651, 1.75), (659, 2.55), (667, 3.05), (675, 1.9), (683, 2.6), (691, 2.1),
    (699, 1.75),
    (705, 2.2), (713, 1.7), (721, 2.55), (729, 2.05), (737, 1.85), (745, 2.35), (753, 1.6),
    (761, 2.25), (769, 1.95), (777, 2.6), (785, 2.1), (793, 1.75), (801, 2.35), (809, 1.9),
    (817, 2.5), (825, 1.65), (833, 2.0), (841, 2.4), (849, 1.8), (857, 2.25), (865, 1.95),
    (873, 2.55), (881, 1.7), (889, 2.1), (897, 2.4), (905, 1.6), (913, 2.0), (921, 2.35),
    (929, 1.85), (937, 2.2), (945, 2.6), (953, 1.75), (961, 2.05), (969, 1.65), (977, 2.3),
    (985, 2.0), (993, 1.8), (1001, 2.45), (1009, 2.15), (1017, 1.7), (1025, 2.3), (1033, 1.9),
    (1041, 2.65), (1049, 1.75), (1057, 2.2), (1065, 2.45), (1073, 1.65), (1081, 2.1),
    (1089, 2.5), (1097, 2.0),
    (1155, 2.3), (1163, 2.0), (1171, 1.7), (1179, 2.45), (1187, 2.1), (1195, 2.75),
    (1203, 1.85), (1211, 2.2), (1219, 2.5), (1227, 1.65), (1235, 2.05), (1243, 2.35),
    (1251, 2.0), (1259, 1.75), (1267, 2.55), (1275, 2.25), (1283, 1.9), (1291, 2.15),
    (1299, 2.7), (1307, 1.95), (1315, 2.4), (1323, 1.7), (1331, 2.2), (1339, 1.85),
    (1347, 2.6), (1355, 2.05), (1363, 1.75), (1371, 2.3), (1379, 2.0), (1387, 2.5),
    (1395, 1.9), (1403, 1.65), (1411, 2.2), (1419, 2.45), (1427, 2.0), (1435, 1.85),
    (1443, 2.35), (1451, 2.6), (1459, 1.7), (1467, 2.1), (1475, 2.4), (1483, 1.9),
    (1491, 2.25), (1499, 1.65), (1507, 2.05), (1515, 2.4), (1523, 1.8), (1531, 2.6),
    (1539, 2.2), (1547, 1.95), (1555, 2.3), (1563, 1.75), (1571, 2.5), (1579, 2.1),
    (1587, 1.85), (1595, 2.45), (1603, 2.0), (1611, 1.7), (1619, 2.25), (1627, 2.55),
    (1635, 2.0), (1643, 1.9), (1651, 2.35), (1659, 2.1), (1667, 2.7), (1675, 1.8),
    (1683, 2.0), (1691, 2.45), (1699, 1.95), (1707, 2.25), (1715, 2.05), (1723, 1.75),
    (1731, 2.4), (1739, 2.15), (1747, 2.65), (1755, 1.9), (1763, 2.1), (1771, 2.35),
    (1779, 2.55), (1787, 1.85), (1795, 2.25), (1803, 2.0), (1811, 2.6), (1819, 1.8),
    (1827, 2.15), (1835, 2.45), (1843, 1.95), (1851, 2.25), (1859, 2.7), (1867, 2.05),
    (1875, 2.35), (1883, 1.8), (1891, 2.6), (1899, 2.2),
    (1904, 2.7), (1910, 2.3), (1916, 1.95), (1922, 2.6), (1928, 2.15), (1934, 2.85),
    (1940, 2.0), (1946, 2.45), (1952, 2.25), (1958, 2.95), (1964, 2.1), (1970, 2.4),
    (1976, 3.05), (1982, 2.55), (1988, 2.0), (1994, 2.8), (2000, 2.3), (2006, 2.55),
    (2012, 2.1), (2018, 2.9), (2024, 2.45), (2030, 2.2), (2036, 2.7), (2042, 1.95),
    (2048, 2.5), (2054, 2.85), (2060, 2.25), (2066, 2.55), (2072, 2.05), (2078, 2.9),
    (2084, 2.6), (2090, 2.3), (2096, 2.75), (2102, 2.15), (2108, 2.45), (2114, 2.05),
    (2120, 2.8), (2126, 2.6), (2132, 2.2), (2138, 2.5), (2144, 2.3), (2150, 2.95),
    (2156, 2.55), (2162, 2.1), (2168, 2.45), (2174, 2.25), (2180, 2.7), (2186, 2.5),
    (2192, 2.0), (2198, 2.85),
    (2208, 2.35), (2216, 1.85), (2224, 2.6), (2232, 2.15), (2240, 1.75), (2248, 2.5),
    (2256, 2.05), (2264, 2.75), (2272, 1.9), (2280, 2.45), (2288, 1.7), (2296, 2.3),
    (2304, 1.8), (2312, 1.55), (2320, 1.95), (2327, 1.5), (2333, 1.7), (2339, 1.4),
    (2345, 1.6), (2351, 1.45), (2357, 1.7), (2363, 1.35), (2369, 1.55), (2376, 1.65),
    (2384, 2.05), (2392, 1.8), (2400, 2.35), (2408, 1.95), (2416, 2.2), (2424, 1.8),
    (2432, 2.45), (2440, 2.1), (2448, 2.6),
    (2454, 2.05), (2461, 2.7), (2467, 2.3), (2473, 1.95), (2480, 2.8), (2494, 2.2),
    (2504, 2.6), (2512, 2.05), (2520, 2.75), (2528, 2.3), (2538, 2.6), (2552, 2.25),
    (2563, 2.8), (2565, 2.4), (2570, 2.05), (2575, 2.55), (2583, 2.2), (2590, 2.6),
    (2600, 2.3), (2610, 2.6), (2618, 1.95), (2626, 2.25), (2634, 2.75), (2644, 2.5),
    (2656, 2.2), (2665, 3.1), (2668, 2.5), (2671, 2.3), (2675, 2.9), (2700, 2.3),
    (2708, 2.6), (2716, 2.15), (2724, 2.75), (2732, 2.45), (2740, 2.05), (2748, 2.8),
    (2756, 2.3), (2764, 2.55), (2772, 2.2), (2780, 2.75), (2788, 2.45), (2796, 2.15),
    (2804, 2.6), (2812, 2.35), (2820, 2.85), (2824, 3.12), (2828, 3.1), (2836, 2.65),
    (2844, 2.3), (2852, 2.6), (2860, 2.05), (2868, 2.4), (2876, 2.6), (2884, 2.3),
    (2892, 2.75), (2900, 3.12), (2908, 2.45), (2916, 2.2), (2924, 2.55), (2932, 2.1),
    (2940, 2.65), (2966, 2.25), (2974, 2.6), (2982, 2.05), (2990, 2.45), (2998, 2.2),
    (3006, 2.55), (3014, 2.05), (3022, 2.35), (3030, 2.6), (3038, 2.0), (3046, 2.45),
    (3054, 2.25), (3062, 1.85), (3070, 2.35), (3078, 2.1), (3086, 2.5), (3116, 2.6),
    (3120, 3.12), (3124, 3.1), (3132, 2.5), (3140, 2.15), (3148, 2.35), (3156, 1.85)]

# narrowband: lower cloud
nb_lower = [
    (2, -1.97), (6, -2.08), (16, -1.82), (20, -1.51), (19, -1.80), (22, -2.11), (30, -2.32),
    (66, -1.65), (70, -2.11), (73, -1.53), (75, -1.97), (77, -1.79), (82, -1.67), (87, -1.80),
    (106, -2.19), (114, -2.40), (115, -2.01), (120, -1.93), (125, -2.37), (127, -1.55),
    (130, -1.75), (134, -1.56), (139, -1.60), (144, -2.11), (149, -1.94), (155, -1.58),
    (163, -1.65), (168, -1.60), (177, -1.86), (182, -1.53), (189, -2.15), (196, -1.75),
    (206, -1.70), (231, -1.70), (232, -1.92), (239, -2.47), (234, -3.11), (250, -3.14),
    (258, -1.79), (261, -1.97), (264, -1.58), (272, -1.55), (274, -2.47), (286, -1.56),
    (300, -1.82), (313, -1.63), (316, -2.21), (336, -1.43), (338, -1.82), (353, -1.47),
    (357, -1.96), (370, -1.95), (379, -1.87), (389, -1.85), (392, -1.68), (405, -1.51),
    (421, -2.21), (427, -1.77), (436, -2.39), (438, -1.54), (443, -1.89), (446, -2.01),
    (449, -1.84), (459, -2.15), (462, -1.97), (465, -2.13), (471, -1.58), (476, -1.94),
    (484, -1.60), (490, -1.67), (493, -1.58), (497, -1.91), (500, -1.77), (519, -2.34),
    (523, -2.04), (533, -2.56), (538, -1.47), (542, -1.67), (547, -1.70), (552, -1.75),
    (557, -1.79), (566, -1.45), (571, -1.58), (578, -2.11), (585, -1.73), (590, -1.89),
    (599, -1.70), (604, -1.80), (611, -1.49), (614, -1.95), (618, -1.75), (623, -1.80),
    (628, -1.54), (635, -1.36), (642, -1.63), (647, -2.04), (656, -1.97), (670, -1.70),
    (694, -1.75), (699, -1.49), (704, -1.53), (708, -1.58), (711, -2.08), (718, -2.35),
    (723, -1.60), (727, -2.09), (742, -2.08), (751, -1.77), (756, -1.86), (761, -1.46),
    (765, -2.32), (770, -1.65), (784, -2.00), (789, -1.45), (794, -1.97), (803, -1.80),
    (822, -2.16), (823, -2.39),
    (840, -1.55), (865, -1.80), (878, -1.62), (892, -1.95), (905, -1.75), (921, -2.05),
    (935, -1.70), (952, -1.60), (968, -2.10), (982, -1.85), (1003, -1.45), (1010, -1.62),
    (1018, -1.35), (1030, -1.55), (1042, -1.70), (1050, -1.48), (1058, -1.65), (1066, -1.30),
    (1075, -1.58), (1082, -1.72),
    (1172, -1.75), (1178, -2.05), (1184, -1.50), (1190, -1.88), (1198, -1.62), (1210, -1.80),
    (1218, -2.10), (1226, -1.55), (1235, -1.72), (1244, -1.95), (1252, -1.60), (1262, -1.85),
    (1270, -2.20), (1278, -1.68), (1290, -1.90), (1300, -1.52), (1310, -2.00), (1322, -1.75),
    (1330, -1.60), (1342, -1.88), (1352, -2.15), (1360, -1.70), (1372, -1.55), (1384, -1.95),
    (1395, -1.78), (1406, -2.05), (1418, -1.62), (1430, -1.85), (1442, -2.20), (1453, -2.95),
    (1462, -1.70), (1472, -1.58), (1484, -1.92), (1495, -1.75), (1506, -2.08), (1518, -1.65),
    (1528, -1.85), (1540, -1.55), (1550, -2.00), (1560, -1.72), (1570, -1.88), (1582, -2.90),
    (1592, -1.62), (1598, -3.10), (1606, -1.80), (1616, -2.05), (1626, -1.68), (1638, -1.95),
    (1648, -1.50), (1660, -1.78), (1670, -2.15), (1680, -1.62), (1694, -2.65), (1702, -1.85),
    (1710, -2.60), (1718, -1.70), (1726, -2.70), (1734, -1.95), (1740, -2.62), (1748, -1.60),
    (1758, -3.20), (1766, -1.82), (1775, -1.55), (1785, -2.00), (1795, -1.72), (1805, -1.65),
    (1815, -1.90), (1825, -1.58), (1838, -1.80), (1850, -1.68), (1862, -1.95), (1872, -1.62),
    (1885, -1.85), (1900, -1.70), (1915, -1.78), (1935, -1.92), (1962, -2.00), (1966, -1.85),
    (2080, -1.55), (2095, -1.62), (2115, -1.58), (2193, -1.82), (2235, -1.95), (2268, -1.18),
    (2300, -1.45), (2318, -1.30), (2390, -1.80), (2492, -1.60), (2505, -2.00),
    (2578, -1.79), (2584, -1.93), (2589, -2.35), (2654, -1.49), (2658, -1.72), (2660, -1.25),
    (2675, -2.08), (2701, -1.91), (2706, -1.51), (2708, -1.27), (2730, -1.54), (2763, -1.84),
    (2772, -1.91), (2773, -2.00), (2774, -1.63), (2777, -1.32), (2786, -1.75), (2787, -1.91),
    (2788, -2.20), (2791, -2.39), (2793, -1.58), (2810, -1.69), (2813, -1.71), (2853, -1.72),
    (2856, -1.75), (2858, -1.82), (2861, -2.06), (2867, -1.96), (2865, -2.83), (2866, -1.03),
    (2872, -1.58), (2896, -1.78), (2903, -2.13), (2907, -2.11), (2929, -1.63), (2934, -1.60),
    (2935, -1.69), (2938, -2.13), (2943, -2.30), (2972, -1.58), (2991, -1.55), (3000, -1.60),
    (3003, -1.90), (3010, -1.75), (3014, -1.65), (3019, -1.72), (3012, -1.95), (3017, -1.93),
    (3024, -1.87), (3028, -1.86), (3021, -1.51), (3027, -1.38), (3033, -1.41), (3030, -2.26),
    (3041, -2.08), (3046, -2.47), (3043, -3.09), (3050, -1.99), (3060, -1.42), (3084, -2.39),
    (3085, -1.58), (3087, -1.69), (3119, -2.35), (3125, -2.11), (3128, -1.70), (3129, -1.99),
    (3138, -1.61), (3140, -2.19), (3141, -2.01), (3142, -2.03), (3152, -1.86), (3154, -2.04),
    (3157, -1.17)]

x_tick_vals = [0, 500, 1000, 1500, 2000, 2500, 3000]
y_tick_vals = [-4, -2, 0, 2, 4]
# the plot draws its end labels just inside the frame
y_label_pos = [-3.92, -2, 0, 2, 3.86]
y_label_text = ["\u22124", "\u22122", "0", "2", "4"]
y2_tick_vals = [0, 50, 100, 150, 200, 250, 300]

x_range = [0, 3178]
y_range = [-4, 4]
y2_range = [0, 336.5]

# ---------------- figure ----------------
FONT = "DejaVu Sans"
TXT = "#2a2a2a"
RED = "#ff0000"


def xs(pts):
    return [p[0] for p in pts]


def ys(pts):
    return [p[1] for p in pts]


mk = dict(symbol="cross", size=3.5, color="black", line=dict(width=0))

fig = go.Figure()

panels = [("x", "y", "y2", "y5", wb_upper + wb_upper_more, wb_lower),
          ("x2", "y3", "y4", "y6", nb_upper + nb_upper_more, nb_lower)]
for xa, ya, ya2, ylab, up, lo in panels:
    fig.add_trace(go.Scatter(x=xs(up), y=ys(up), mode="markers", marker=mk,
                             xaxis=xa, yaxis=ya, hoverinfo="skip"))
    fig.add_trace(go.Scatter(x=xs(lo), y=ys(lo), mode="markers", marker=mk,
                             xaxis=xa, yaxis=ya, hoverinfo="skip"))
    fig.add_trace(go.Scatter(x=zero_x, y=[0] * len(zero_x), mode="markers", marker=mk,
                             xaxis=xa, yaxis=ya, hoverinfo="skip"))
    fig.add_trace(go.Scatter(x=red_x, y=red_y, mode="lines",
                             line=dict(color=RED, width=1.1, shape="hv"),
                             xaxis=xa, yaxis=ya2, hoverinfo="skip"))
    # empty trace so that the label-only axis is drawn
    fig.add_trace(go.Scatter(x=[], y=[], mode="markers", xaxis=xa, yaxis=ylab,
                             hoverinfo="skip"))

tickfont = dict(family=FONT, size=17, color=TXT)


def xaxis_cfg(anchor):
    return dict(anchor=anchor, domain=[0, 1], range=x_range, tickmode="array",
                tickvals=x_tick_vals, ticks="inside", ticklen=8, tickwidth=1,
                tickcolor="black", minor=dict(dtick=100, tick0=0, ticks="inside",
                                              ticklen=4, tickcolor="black", tickwidth=1),
                showline=True, linecolor="#777777", linewidth=1.5, mirror="ticks",
                showgrid=False, zeroline=False, tickfont=tickfont,
                ticklabelstandoff=2, automargin=False)


def yaxis_cfg(anchor, dom):
    return dict(anchor=anchor, domain=dom, range=y_range, tickmode="array",
                tickvals=y_tick_vals, ticks="inside", ticklen=22, tickwidth=1,
                tickcolor="black", minor=dict(dtick=0.5, tick0=0, ticks="inside",
                                              ticklen=11, tickcolor="black", tickwidth=1),
                showline=True, linecolor="black", linewidth=1.2, mirror=False,
                showgrid=False, zeroline=False, showticklabels=False,
                automargin=False)


def ylabel_cfg(anchor, over):
    return dict(anchor=anchor, overlaying=over, side="left", range=y_range,
                tickmode="array", tickvals=y_label_pos, ticktext=y_label_text,
                ticks="", showline=False, showgrid=False, zeroline=False,
                tickfont=tickfont, ticklabelstandoff=0, automargin=False)


def y2axis_cfg(anchor, over):
    return dict(anchor=anchor, overlaying=over, side="right", range=y2_range,
                tickmode="array", tickvals=y2_tick_vals, ticks="inside", ticklen=22,
                tickwidth=1, tickcolor=RED,
                minor=dict(dtick=10, tick0=0, ticks="inside", ticklen=11,
                           tickcolor=RED, tickwidth=1),
                showline=True, linecolor=RED, linewidth=1.5, showgrid=False,
                zeroline=False, tickfont=dict(family=FONT, size=17, color=RED),
                ticklabelstandoff=8, ticklabeloverflow="allow", automargin=False)


top_dom = [0.5524, 1.0]
bot_dom = [0.0, 0.4476]

fig.update_layout(
    width=1311, height=926,
    margin=dict(l=110, r=85, t=8, b=49),
    paper_bgcolor="white", plot_bgcolor="white",
    showlegend=False,
    xaxis=xaxis_cfg("y"),
    yaxis=yaxis_cfg("x", top_dom),
    yaxis2=y2axis_cfg("x", "y"),
    yaxis5=ylabel_cfg("x", "y"),
    xaxis2=xaxis_cfg("y3"),
    yaxis3=yaxis_cfg("x2", bot_dom),
    yaxis4=y2axis_cfg("x2", "y3"),
    yaxis6=ylabel_cfg("x2", "y3"),
)

ann_font = dict(family=FONT, size=17, color=TXT)
ytitle_font = dict(family=FONT, size=20, color="#444444")
fig.add_annotation(text="WB SJU/MEAN POWER", xref="paper", yref="paper",
                   x=-0.0789, y=0.776, textangle=-90, showarrow=False,
                   xanchor="center", yanchor="middle", font=ytitle_font)
fig.add_annotation(text="NB SJU/MEAN POWER", xref="paper", yref="paper",
                   x=-0.0789, y=0.2238, textangle=-90, showarrow=False,
                   xanchor="center", yanchor="middle", font=ytitle_font)
fig.add_annotation(text="MX INDEX NUMBER; WIDEBAND", xref="paper", yref="paper",
                   x=0.5, y=0.5109, showarrow=False, xanchor="center",
                   yanchor="middle", font=ann_font)
fig.add_annotation(text="receiver number 8", xref="paper", yref="paper",
                   x=0.4427, y=0.4856, showarrow=False, xanchor="center",
                   yanchor="middle", font=dict(family=FONT, size=17, color="#33dd33"))
fig.add_annotation(text="MX INDEX NUMBER; NARROWBAND", xref="paper", yref="paper",
                   x=0.5, y=-0.0449, showarrow=False, xanchor="center",
                   yanchor="middle", font=ann_font)

# wide letter spacing imitates the stroke font of the original plot
post = """
var gd = document.getElementById('{plot_id}');
function spacing(){
  gd.querySelectorAll('text').forEach(function(t){
    var s = t.textContent || '';
    if (s.indexOf('SJU') >= 0) {
      t.style.letterSpacing = '-2.5px';
      t.style.wordSpacing = '5px';
    } else { t.style.letterSpacing = '6px'; }
  });
}
spacing();
if (gd.on) { gd.on('plotly_afterplot', spacing); }
setTimeout(spacing, 100);
"""

fig.write_html("out.html", config=dict(displayModeBar=False), post_script=post)
